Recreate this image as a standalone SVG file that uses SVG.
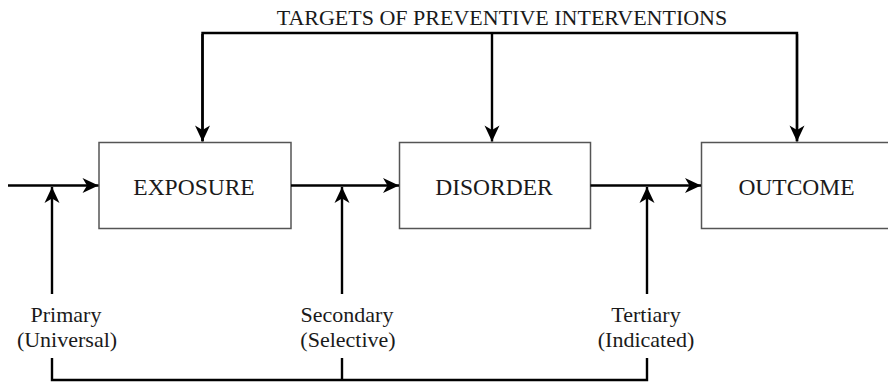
<svg xmlns="http://www.w3.org/2000/svg" width="888" height="382" viewBox="0 0 888 382">
<style>
  .box { fill: #ffffff; stroke: #555555; stroke-width: 1.5; }
  .lbl { font-family: "Liberation Serif", "Times New Roman", serif; font-size: 23.5px; fill: #1a1a1a; text-anchor: middle; }
  .sm { font-family: "Liberation Serif", "Times New Roman", serif; font-size: 22px; fill: #1a1a1a; text-anchor: middle; }
  .ln { fill: none; stroke: #000000; stroke-width: 2.4; }
  .arr { fill: none; stroke: #000000; stroke-width: 2.4; marker-end: url(#ah); }
</style>
<defs>
  <marker id="ah" markerUnits="userSpaceOnUse" viewBox="-17 -9 18 18" refX="0" refY="0" markerWidth="18" markerHeight="18" orient="auto">
    <path d="M0,0 L-16,-7.5 L-11.5,0 L-16,7.5 Z" fill="#000000"/>
  </marker>
</defs>
<rect width="888" height="382" fill="#ffffff"/>

<text class="sm" x="502" y="25">TARGETS OF PREVENTIVE INTERVENTIONS</text>

<g id="exposure">
  <rect class="box" x="99" y="142.5" width="192" height="86"/>
  <text class="lbl" x="194" y="195">EXPOSURE</text>
</g>
<g id="disorder">
  <rect class="box" x="399.5" y="142.5" width="191" height="86"/>
  <text class="lbl" x="494" y="195">DISORDER</text>
</g>
<g id="outcome">
  <rect class="box" x="701.5" y="142.5" width="190" height="86"/>
  <text class="lbl" x="796.5" y="195">OUTCOME</text>
</g>

<g id="labels">
  <text class="sm" x="66" y="322">Primary</text>
  <text class="sm" x="67" y="347">(Universal)</text>
  <text class="sm" x="347" y="322">Secondary</text>
  <text class="sm" x="348" y="347">(Selective)</text>
  <text class="sm" x="646" y="322">Tertiary</text>
  <text class="sm" x="646" y="347">(Indicated)</text>
</g>

<g id="connectors">
  <!-- top bracket -->
  <path class="ln" d="M202.5,141 L202.5,33 L797,33 L797,141"/>
  <line class="arr" x1="202.5" y1="34" x2="202.5" y2="141.5"/>
  <line class="arr" x1="492" y1="33" x2="492" y2="141.5"/>
  <line class="arr" x1="797" y1="34" x2="797" y2="141.5"/>
  <!-- main flow -->
  <line class="arr" x1="8" y1="185.5" x2="98.5" y2="185.5"/>
  <line class="arr" x1="291" y1="185.5" x2="399" y2="185.5"/>
  <line class="arr" x1="590.5" y1="185.5" x2="701" y2="185.5"/>
  <!-- up arrows -->
  <line class="arr" x1="52" y1="294" x2="52" y2="187"/>
  <line class="arr" x1="342" y1="294" x2="342" y2="187"/>
  <line class="arr" x1="647" y1="294" x2="647" y2="187"/>
  <!-- bottom bracket -->
  <path class="ln" d="M52,358 L52,380 L647,380 L647,358"/>
  <line class="ln" x1="342" y1="358" x2="342" y2="380"/>
</g>
</svg>
